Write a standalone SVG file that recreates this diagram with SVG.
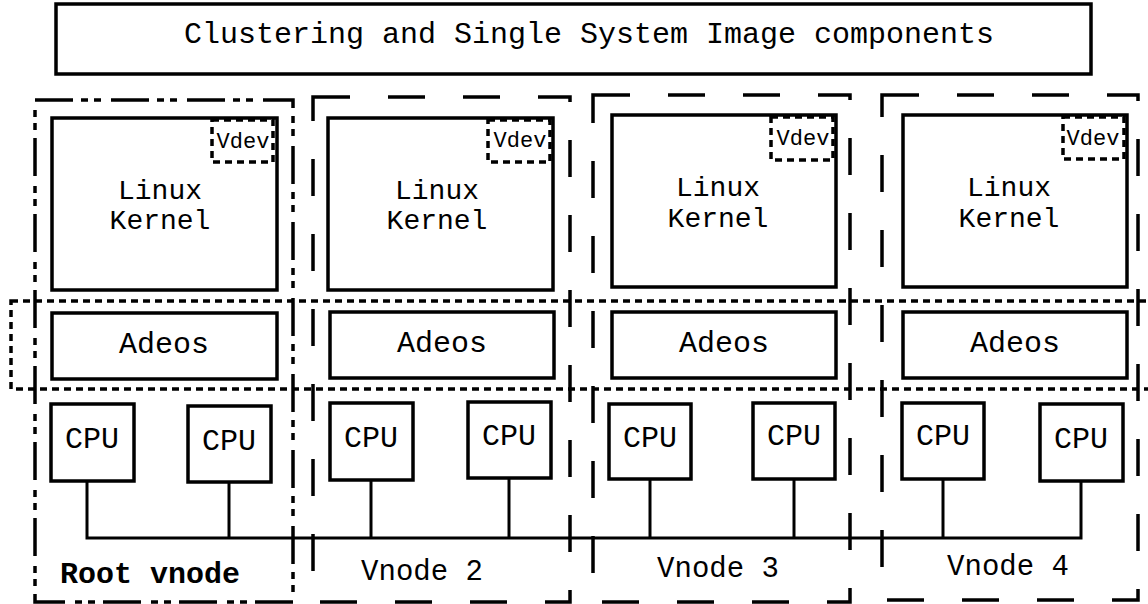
<svg xmlns="http://www.w3.org/2000/svg" width="1148" height="604" viewBox="0 0 1148 604">
<style>
  .box{fill:none;stroke:#000;stroke-width:3.5}
  .dot{fill:none;stroke:#000;stroke-width:3.5;stroke-dasharray:7 5}
  .dash{fill:none;stroke:#000;stroke-width:3.5;stroke-dasharray:37 38}
  .dashdot{fill:none;stroke:#000;stroke-width:3.5;stroke-dasharray:38 8 7 6 7 10}
  .wire{fill:none;stroke:#000;stroke-width:3}
  text{font-family:"Liberation Mono","Courier New",monospace;fill:#000}
  .t30{font-size:30px;text-anchor:middle}
  .t28{font-size:28px;text-anchor:middle}
  .t22{font-size:22px;text-anchor:middle}
  .lbl{font-size:29px;text-anchor:middle}
  .bold{font-size:30px;font-weight:bold}
</style>
<rect width="1148" height="604" fill="#fff"/>

<g id="title">
  <rect class="box" x="56" y="4" width="1035" height="70"/>
  <text class="t30" x="589" y="43">Clustering and Single System Image components</text>
</g>

<g id="vnode-boxes">
  <rect id="root-vnode" class="dashdot" x="35" y="100" width="258" height="502"/>
  <rect id="vnode2-box" class="dash" x="313" y="97" width="257" height="505"/>
  <rect id="vnode3-box" class="dash" x="593" y="95" width="257" height="507"/>
  <rect id="vnode4-box" class="dash" x="882" y="95" width="256" height="505"/>
</g>

<g id="adeos-band">
  <rect class="dot" x="11" y="301" width="1150" height="88"/>
</g>

<g id="connectors">
  <path class="wire" d="M87,482 V538 H1081 V482"/>
  <path class="wire" d="M229,482 V538"/>
  <path class="wire" d="M371,480 V538"/>
  <path class="wire" d="M509,478 V538"/>
  <path class="wire" d="M650,479 V538"/>
  <path class="wire" d="M794,479 V538"/>
  <path class="wire" d="M943,479 V538"/>
</g>

<g id="root">
  <g id="root-kernel">
    <rect class="box" x="52" y="118" width="225" height="172"/>
    <rect class="dot" x="212" y="120" width="61" height="42"/>
    <text class="t22" x="243" y="148">Vdev</text>
    <text class="t28" x="160" y="199">Linux</text>
    <text class="t28" x="160" y="229">Kernel</text>
  </g>
  <g id="root-adeos">
    <rect class="box" x="52" y="313" width="225" height="66"/>
    <text class="t30" x="164" y="353">Adeos</text>
  </g>
  <g id="root-cpu1">
    <rect class="box" x="51" y="404" width="83" height="77"/>
    <text class="t30" x="92" y="448">CPU</text>
  </g>
  <g id="root-cpu2">
    <rect class="box" x="188" y="406" width="83" height="76"/>
    <text class="t30" x="229" y="450">CPU</text>
  </g>
  <text class="bold" x="60" y="583">Root vnode</text>
</g>

<g id="vnode2">
  <g id="v2-kernel">
    <rect class="box" x="328" y="118" width="225" height="172"/>
    <rect class="dot" x="488" y="120" width="62" height="42"/>
    <text class="t22" x="520" y="147">Vdev</text>
    <text class="t28" x="437" y="199">Linux</text>
    <text class="t28" x="437" y="229">Kernel</text>
  </g>
  <g id="v2-adeos">
    <rect class="box" x="330" y="312" width="224" height="66"/>
    <text class="t30" x="442" y="352">Adeos</text>
  </g>
  <g id="v2-cpu1">
    <rect class="box" x="330" y="403" width="83" height="77"/>
    <text class="t30" x="371" y="447">CPU</text>
  </g>
  <g id="v2-cpu2">
    <rect class="box" x="468" y="402" width="83" height="76"/>
    <text class="t30" x="509" y="445">CPU</text>
  </g>
  <text class="lbl" x="422" y="580">Vnode 2</text>
</g>

<g id="vnode3">
  <g id="v3-kernel">
    <rect class="box" x="612" y="115" width="224" height="172"/>
    <rect class="dot" x="771" y="117" width="62" height="43"/>
    <text class="t22" x="803" y="145">Vdev</text>
    <text class="t28" x="718" y="196">Linux</text>
    <text class="t28" x="718" y="227">Kernel</text>
  </g>
  <g id="v3-adeos">
    <rect class="box" x="612" y="312" width="224" height="66"/>
    <text class="t30" x="724" y="352">Adeos</text>
  </g>
  <g id="v3-cpu1">
    <rect class="box" x="609" y="404" width="82" height="75"/>
    <text class="t30" x="650" y="447">CPU</text>
  </g>
  <g id="v3-cpu2">
    <rect class="box" x="753" y="403" width="82" height="76"/>
    <text class="t30" x="794" y="445">CPU</text>
  </g>
  <text class="lbl" x="718" y="577">Vnode 3</text>
</g>

<g id="vnode4">
  <g id="v4-kernel">
    <rect class="box" x="903" y="115" width="224" height="172"/>
    <rect class="dot" x="1063" y="117" width="61" height="42"/>
    <text class="t22" x="1093" y="145">Vdev</text>
    <text class="t28" x="1009" y="196">Linux</text>
    <text class="t28" x="1009" y="227">Kernel</text>
  </g>
  <g id="v4-adeos">
    <rect class="box" x="903" y="312" width="224" height="66"/>
    <text class="t30" x="1015" y="352">Adeos</text>
  </g>
  <g id="v4-cpu1">
    <rect class="box" x="902" y="403" width="82" height="76"/>
    <text class="t30" x="943" y="445">CPU</text>
  </g>
  <g id="v4-cpu2">
    <rect class="box" x="1040" y="404" width="83" height="77"/>
    <text class="t30" x="1081" y="448">CPU</text>
  </g>
  <text class="lbl" x="1008" y="575">Vnode 4</text>
</g>
</svg>
